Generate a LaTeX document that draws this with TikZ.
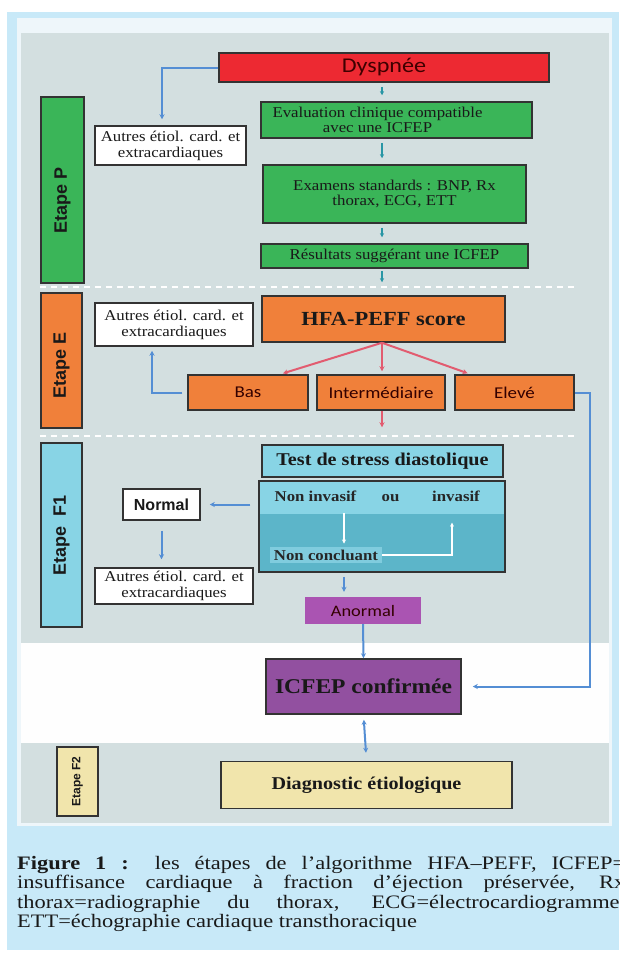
\documentclass[tikz,border=0pt]{standalone}
\usepackage{fontspec}
\setmainfont{Liberation Serif}
\newfontfamily\cambr[FakeStretch=1.12]{Liberation Serif}
\newfontfamily\calib[FakeStretch=1.15]{Carlito}
\newfontfamily\arialb{Liberation Sans}
\newfontfamily\capfont[FakeStretch=1.18]{Liberation Serif}
\usepackage{tikz}
\usetikzlibrary{calc,arrows.meta}
\definecolor{hfframe}{RGB}{200, 233, 248}
\definecolor{hfpanel}{RGB}{238, 246, 250}
\definecolor{hfgrey}{RGB}{211, 223, 224}
\definecolor{hfred}{RGB}{237, 41, 50}
\definecolor{hfgreen}{RGB}{58, 181, 88}
\definecolor{hforange}{RGB}{240, 128, 58}
\definecolor{hfcyan}{RGB}{136, 212, 229}
\definecolor{hfteal}{RGB}{92, 181, 201}
\definecolor{hfpatch}{RGB}{128, 204, 222}
\definecolor{hfviolet}{RGB}{170, 84, 178}
\definecolor{hfpurple}{RGB}{146, 80, 160}
\definecolor{hfyellow}{RGB}{241, 229, 172}
\definecolor{hfblue}{RGB}{84, 142, 212}
\definecolor{hfarrteal}{RGB}{40, 150, 165}
\definecolor{hfpink}{RGB}{226, 92, 112}

\begin{document}
\begin{tikzpicture}[x=1pt, y=-1pt,
  box/.style={draw=black!80, line width=1.5pt, inner sep=2pt, align=center, text=black!90},
  whitebox/.style={box, fill=white, font=\cambr\fontsize{15}{16}\selectfont},
  greenbox/.style={box, fill=hfgreen, font=\cambr\fontsize{15}{15.5}\selectfont},
  orangebox/.style={box, fill=hforange, font=\calib\fontsize{16.5}{17}\selectfont, text=black!80!red},
  etape/.style={box, rotate=90, font=\arialb\bfseries\fontsize{18}{18}\selectfont},
  intext/.style={font=\cambr\bfseries\fontsize{15}{15}\selectfont, text=black!85},
  bluearrow/.style={hfblue, line width=2pt, -{Stealth[length=5pt,width=5pt]}},
  pinkarrow/.style={hfpink, line width=2pt, -{Stealth[length=5pt,width=5pt]}},
  tealarrow/.style={hfarrteal, line width=2pt, -{Stealth[length=4pt,width=4pt]}},
  whitearrow/.style={white, line width=1.6pt, -{Stealth[length=4pt,width=4pt]}}]
\useasboundingbox (0,0) rectangle (619,956);
\clip (0,0) rectangle (619,956);
% Background panels
\fill[white] (0,0) rectangle (619,956);
\fill[hfframe] (7,12) rectangle (619,950);
\fill[hfpanel] (17,18) rectangle (612,826);
\fill[hfgrey] (21,33) rectangle (609,643);
\fill[white!97!hfgrey] (21,643) rectangle (609,743);
\fill[hfgrey] (21,743) rectangle (609,823);
\foreach \y in {287,436} {
    \draw[white, line width=2pt, dash pattern=on 6pt off 5pt] (40,\y) -- (575,\y);
}
\coordinate (col) at (382,0);
\coordinate (wcol) at (344,0);

% Etape P
\node[etape, fill=hfgreen, minimum width=186, minimum height=43] (etapeP) at (62.5,190) {Etape P\hspace*{20pt}};
\node[box, fill=hfred, minimum width=330, minimum height=29, font=\calib\fontsize{21}{21}\selectfont, text=black!75!red] (dysp) at (384,67.5) {Dyspnée};
\node[greenbox, minimum width=271, minimum height=36] (eval) at (396.5,120) {Evaluation clinique compatible\hspace*{38pt}\\avec une ICFEP\hspace*{38pt}};
\node[greenbox, minimum width=263, minimum height=58] (exam) at (394.5,194) {Examens standards : BNP, Rx\\thorax, ECG, ETT};
\node[greenbox, minimum width=267, minimum height=24, inner sep=0pt] (resu) at (394.5,256) {Résultats suggérant une ICFEP};
\node[whitebox, minimum width=151, minimum height=39] (autreP) at (170.5,145.5) {Autres étiol. card. et\\extracardiaques};
\draw[bluearrow, shorten >=6pt] (dysp.west) -| ([xshift=-8.5pt]autreP.north);
\foreach \a/\b in {dysp/eval, eval/exam, exam/resu} {
    \draw[tealarrow, shorten <=4pt, shorten >=6pt] (\a.south -| col) -- (\b.north -| col);
}

% Etape E
\node[etape, fill=hforange, minimum width=135, minimum height=41] (etapeE) at (61.5,360.5) {Etape E\hspace*{10pt}};
\node[box, fill=hforange, minimum width=243, minimum height=46, font=\cambr\bfseries\fontsize{20}{20}\selectfont] (hfa) at (383.5,319) {HFA-PEFF score};
\node[whitebox, minimum width=158, minimum height=43] (autreE) at (174,324.5) {Autres étiol. card. et\\extracardiaques};
\node[orangebox, minimum width=120, minimum height=35] (bas) at (248,392.5) {Bas};
\node[orangebox, minimum width=128, minimum height=35] (inter) at (381,392.5) {Intermédiaire};
\node[orangebox, minimum width=119, minimum height=35] (eleve) at (514.5,392.5) {Elevé};
\draw[tealarrow, shorten <=2pt, shorten >=13pt] (resu.south -| col) -- (hfa.north -| col);
\draw[pinkarrow, shorten >=3pt] (hfa.south -| col) -- ([xshift=32pt]bas.north);
\draw[pinkarrow, shorten >=3pt] (hfa.south -| col) -- (inter.north -| col);
\draw[pinkarrow, shorten >=3pt] (hfa.south -| col) -- ([xshift=-44pt]eleve.north);
\draw[bluearrow, shorten <=5pt, shorten >=4pt] (bas.west) -| ([xshift=-22pt]autreE.south);

% Etape F1
\node[etape, fill=hfcyan, minimum width=184, minimum height=41] (etapeF) at (61.5,535) {Etape\hspace{10pt}F1};
\node[box, fill=hfcyan, minimum width=241, minimum height=32, font=\cambr\bfseries\fontsize{18}{18}\selectfont] (test) at (382.5,461) {Test de stress diastolique};
\draw[pinkarrow, shorten >=17pt] (inter.south -| col) -- (test.north -| col);
\node[box, fill=hfteal, minimum width=246, minimum height=91,
      path picture={\fill[hfcyan] (path picture bounding box.north west) rectangle ([yshift=-33pt]path picture bounding box.north east);}] (invas) at (382,526.5) {};
\node[intext, anchor=base] (noninv) at (315.5,501) {Non invasif};
\node[intext, anchor=base] (ou) at (390.5,501) {ou};
\node[intext, anchor=base] (inv) at (456,501) {invasif};
\node[intext, fill=hfpatch, inner sep=3pt, minimum width=112] (nonc) at (326,555) {Non concluant};
\draw[whitearrow, shorten >=3pt] (invas.north -| wcol) ++(0,33) -- (nonc.north -| wcol);
\draw[whitearrow, shorten >=18pt] (nonc.east) -| ([xshift=-4pt]inv.south);
\node[box, fill=white, minimum width=77, minimum height=31, font=\arialb\bfseries\fontsize{16}{16}\selectfont] (normal) at (161.5,504.5) {Normal};
\node[whitebox, minimum width=158, minimum height=36] (autreF) at (174,586) {Autres étiol. card. et\\extracardiaques};
\node[fill=hfviolet, minimum width=116, minimum height=27, font=\calib\fontsize{16}{16}\selectfont, text=black!80!red] (anormal) at (363,610.5) {Anormal};
\draw[bluearrow, shorten <=8pt, shorten >=9pt] (invas.west |- normal.east) -- (normal.east);
\draw[bluearrow, shorten <=10pt, shorten >=8pt] (normal.south) -- (autreF.north -| normal.south);
\draw[bluearrow, shorten <=4pt, shorten >=5pt] (invas.south -| wcol) -- (anormal.north -| wcol);

% ICFEP et Etape F2
\node[box, fill=hfpurple, minimum width=195, minimum height=55, font=\cambr\bfseries\fontsize{21}{21}\selectfont] (icfep) at (363.5,686.5) {ICFEP confirmée};
\node[box, fill=hfyellow, minimum width=291, minimum height=47, font=\cambr\bfseries\fontsize{18}{18}\selectfont] (diag) at (366.5,785) {Diagnostic étiologique};
\node[etape, fill=hfyellow, minimum width=69, minimum height=41, font=\arialb\bfseries\fontsize{12}{12}\selectfont] (etapeFF) at (77.5,781.5) {Etape F2};
\draw[bluearrow] (anormal.south) -- (icfep.north);
\draw[bluearrow, shorten >=11pt] (eleve.east) -- ++(15,0) |- (icfep.east);
\draw[bluearrow, {Stealth[length=5pt,width=5pt]}-{Stealth[length=5pt,width=5pt]}, shorten <=5pt, shorten >=8pt] (icfep.south) -- (diag.north);

% Legend
\node[anchor=north west, inner sep=0pt, align=left, font=\capfont\fontsize{19}{19.5}\selectfont, text=black!90] (caption) at (17,856)
  {\makebox[608pt][s]{\textbf{Figure 1 :} les étapes de l’algorithme HFA–PEFF, ICFEP=}\\
   \makebox[608pt][s]{insuffisance cardiaque à fraction d’éjection préservée, Rx}\\
   \makebox[608pt][s]{thorax=radiographie du thorax, ECG=électrocardiogramme,}\\
   ETT=échographie cardiaque transthoracique};
\end{tikzpicture}
\end{document}
